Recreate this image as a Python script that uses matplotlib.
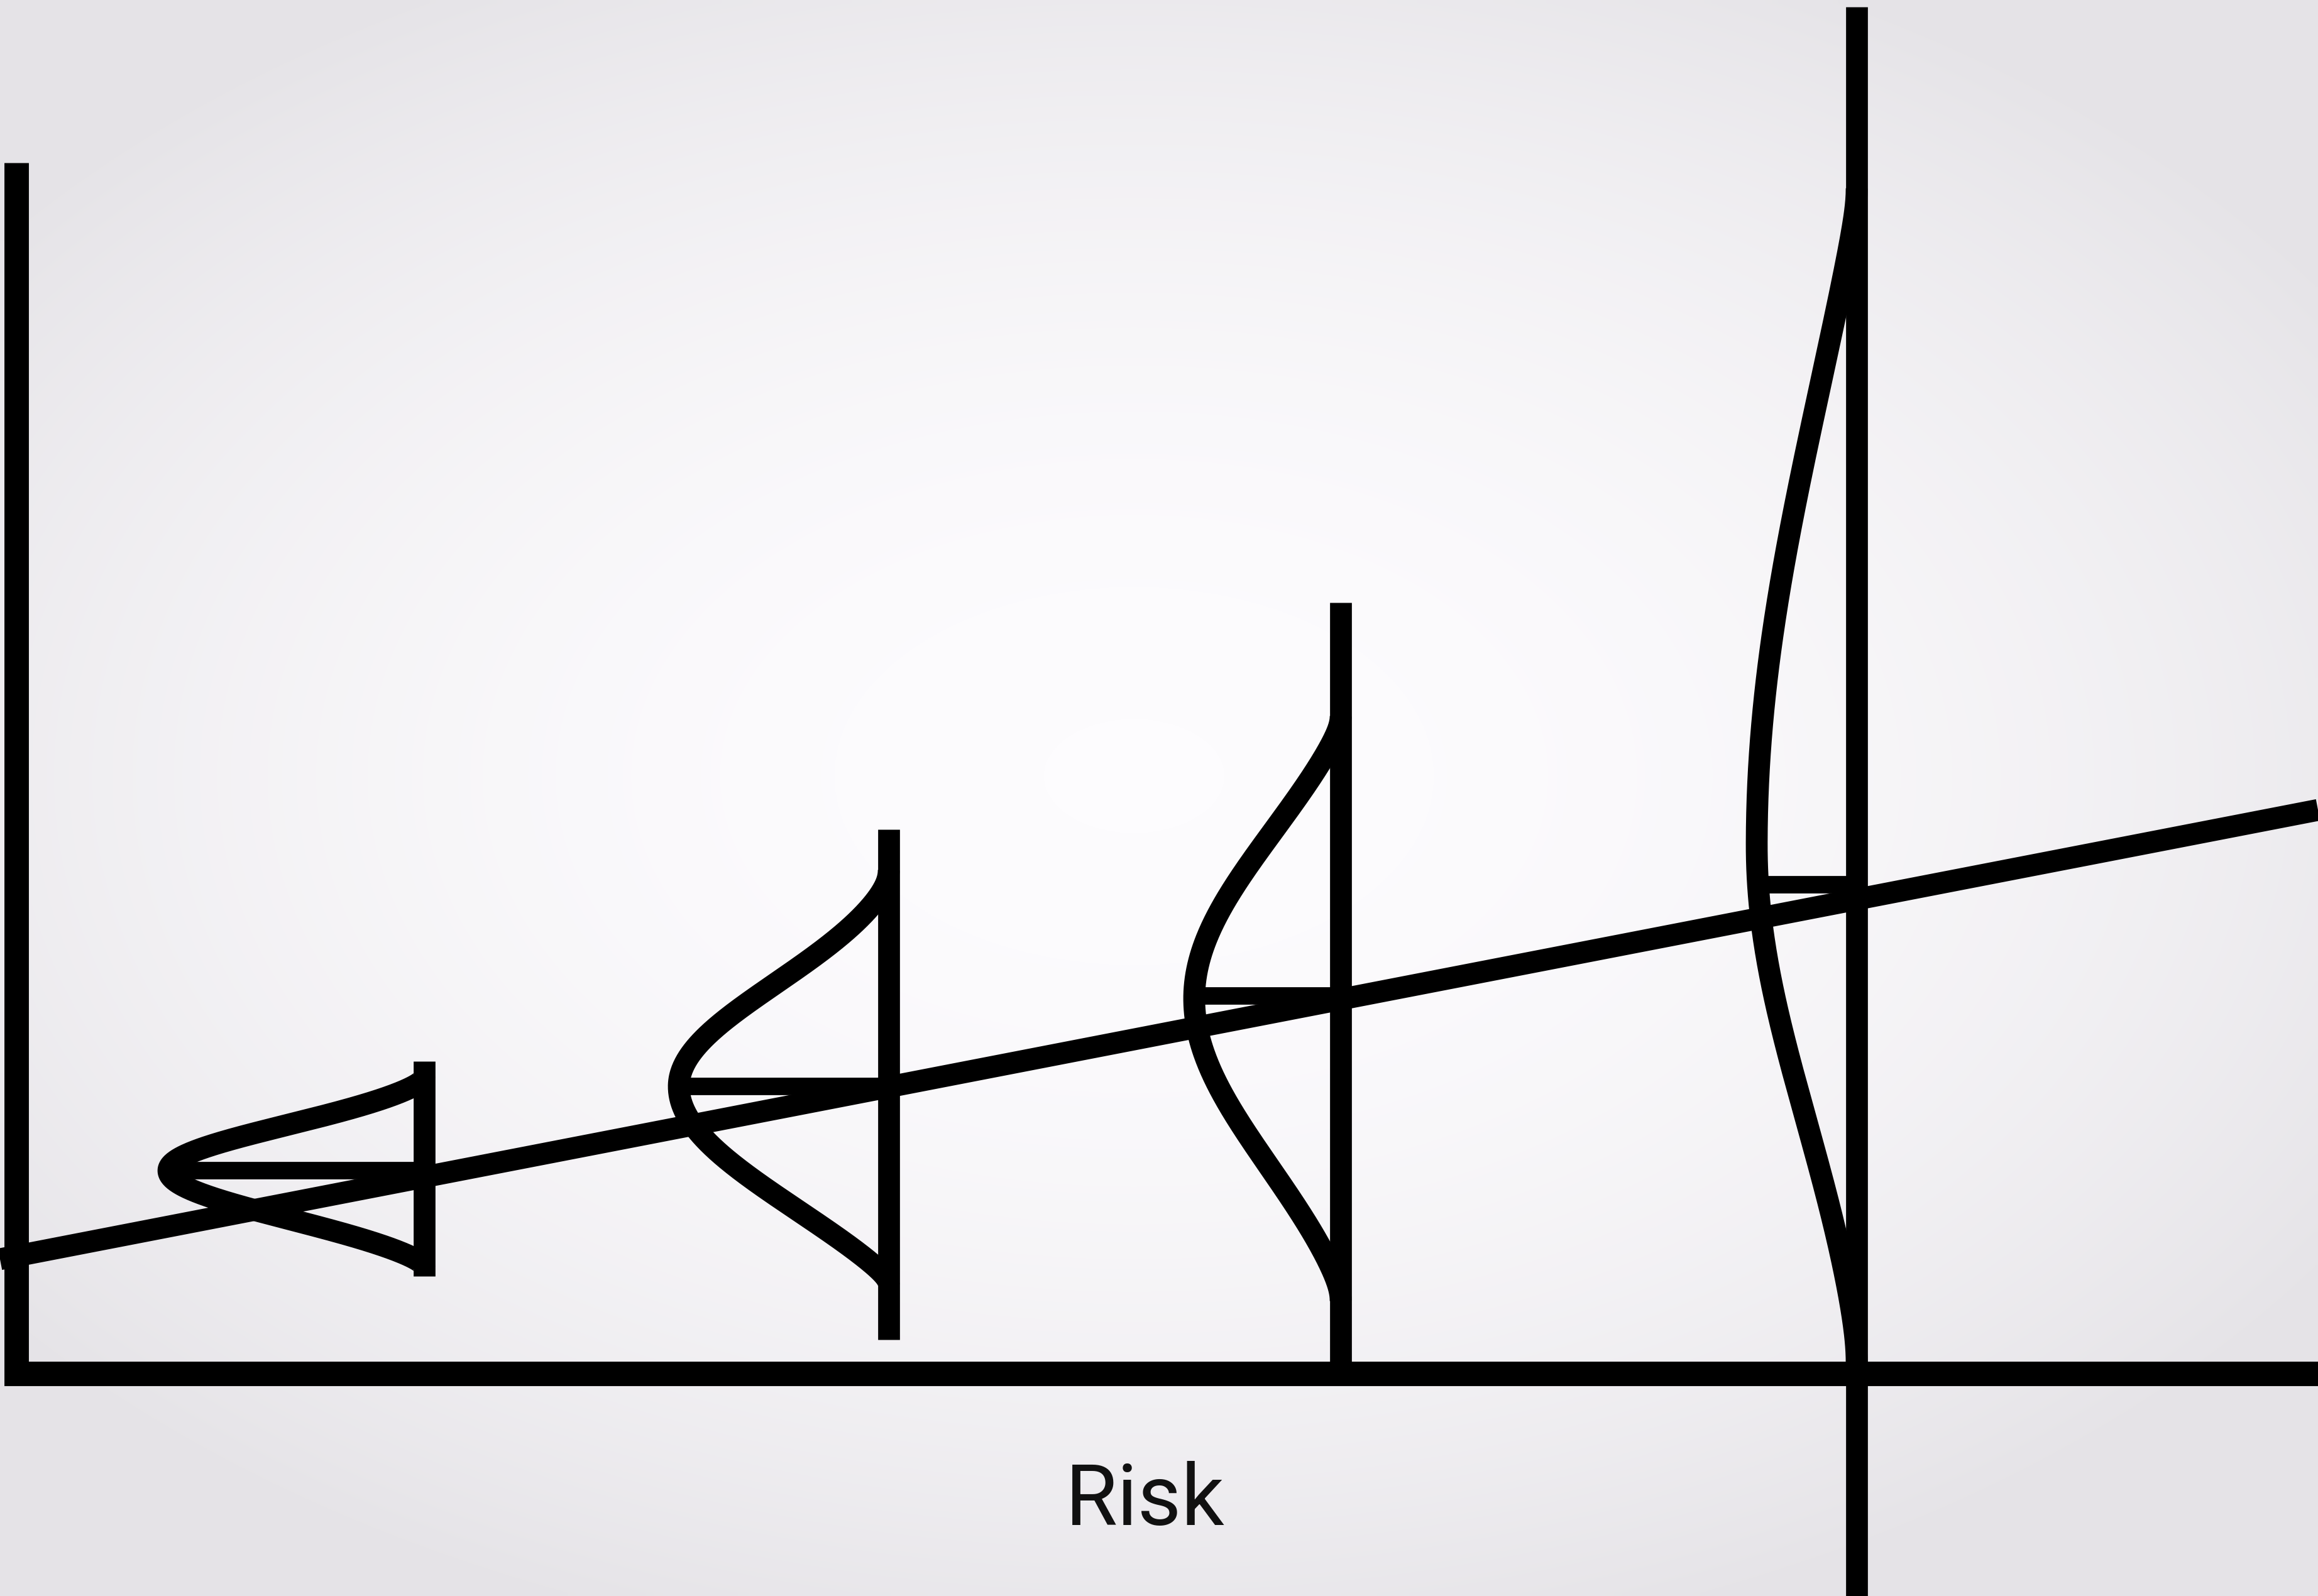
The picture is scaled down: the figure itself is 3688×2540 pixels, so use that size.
import numpy as np
import matplotlib.pyplot as plt
from matplotlib.colors import LinearSegmentedColormap

W, H = 3688, 2540

# distributions (x = risk position, y = return, canvas units)
RISK = [675, 1414, 2133, 2954]
PEAK = [677, 811, 951, 1195]
MEAN = [677, 811, 955, 1132]
AMP = [407, 334, 233, 159]
SIG_UP = [73, 165, 270, 760]
SIG_DOWN = [78, 200, 270, 440]
TAIL_TOP = [828, 1155, 1400, 2240]
TAIL_BOTTOM = [522, 495, 470, 370]
VLINE_TOP = [851, 1220, 1581, 2529]
VLINE_BOTTOM = [509, 408, 354, 0]

# regression line
REG_X = [0, 3688]
REG_Y = [536, 1251]

# axes frame
AXIS_X = [26, 26, 3688]
AXIS_Y = [2281, 354, 354]

LABEL = "Risk"

LW = 25


def bell(y, peak, s_up, s_down, top, bottom):
    d = y - peak
    s = np.where(d > 0, s_up, s_down)
    d_end = np.where(d > 0, top - peak, peak - bottom)
    g = np.exp(-0.5 * (d / s) ** 2)
    g_end = np.exp(-0.5 * (d_end / s) ** 2)
    f = np.clip((g - g_end) / (1 - g_end), 0, 1)
    e = 0.05
    return (np.sqrt(f ** 2 + e ** 2) - e) / (np.sqrt(1 + e ** 2) - e)


fig = plt.figure(figsize=(W / 100, H / 100), dpi=100)
ax = fig.add_axes([0, 0, 1, 1])
ax.set_xlim(0, W)
ax.set_ylim(0, H)
ax.axis('off')

# soft vignette background
yy, xx = np.mgrid[0:H:10, 0:W:10]
r = np.sqrt(((xx - 1800) / 2300) ** 2 + ((yy - 1300) / 1450) ** 2)
bg = np.clip(1 - r ** 2, 0, 1)
cmap = LinearSegmentedColormap.from_list('bg', ['#e5e3e7', '#fdfcfe'])
ax.imshow(bg, cmap=cmap, extent=[0, W, 0, H], origin='lower',
          aspect='auto', zorder=0, interpolation='bilinear')

ax.plot(AXIS_X, AXIS_Y, color='black', lw=28, solid_joinstyle='miter',
        solid_capstyle='butt', zorder=3)

ax.plot(REG_X, REG_Y, color='black', lw=LW, solid_capstyle='butt', zorder=3)

for i in range(len(RISK)):
    ax.plot([RISK[i], RISK[i]], [VLINE_BOTTOM[i], VLINE_TOP[i]], color='black',
            lw=LW, solid_capstyle='butt', zorder=3)
    y = np.linspace(TAIL_BOTTOM[i], TAIL_TOP[i], 400)
    x = RISK[i] - AMP[i] * bell(y, PEAK[i], SIG_UP[i], SIG_DOWN[i],
                                TAIL_TOP[i], TAIL_BOTTOM[i])
    ax.plot(x, y, color='black', lw=LW, solid_capstyle='butt', zorder=3)
    x_left = RISK[i] - AMP[i] * bell(np.array([MEAN[i]]), PEAK[i], SIG_UP[i],
                                     SIG_DOWN[i], TAIL_TOP[i], TAIL_BOTTOM[i])[0]
    ax.plot([x_left, RISK[i]], [MEAN[i], MEAN[i]], color='black', lw=20,
            solid_capstyle='butt', zorder=3)

ax.text(1822, 113, LABEL, ha='center', va='baseline', fontsize=97,
        family=['Roboto', 'DejaVu Sans'], color='#111111', zorder=4)

fig.savefig('out.png', dpi=100)
